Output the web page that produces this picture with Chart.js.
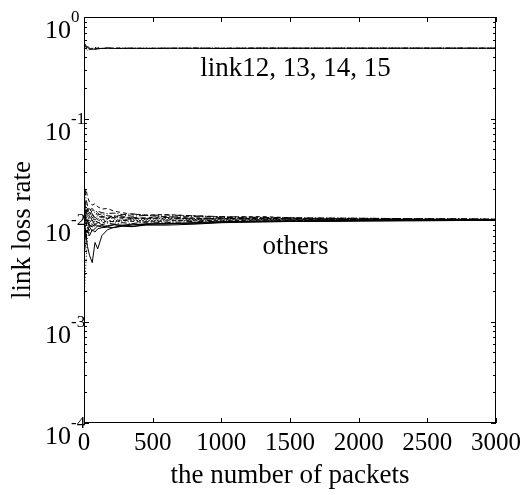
<!DOCTYPE html>
<html>
<head>
<meta charset="UTF-8">
<title>link loss rate</title>
<script src="https://cdn.jsdelivr.net/npm/chart.js"></script>
<style>
  html, body { margin: 0; padding: 0; background: #fff; }
  canvas { display: block; }
</style>
</head>
<body>
<canvas id="lossChart" width="529" height="495"></canvas>
<script>
// packet counts at which the loss rate estimates were taken
const packets = [5, 15, 25, 40, 60, 80, 100, 130, 170, 220, 280, 350, 450, 600, 800, 1000, 1300, 1600, 2000, 2400, 2800, 3000];

// bottleneck links 12..15
const link12 = [.53, .51, .50, .49, .48, .485, .49, .49, .495, .49, .49, .492, .49, .493, .492, .49, .492, .493, .492, .493, .492, .493];
const link13 = [.55, .52, .49, .48, .485, .49, .495, .49, .49, .495, .493, .49, .492, .49, .493, .492, .494, .492, .493, .492, .493, .492];
const link14 = [.50, .48, .47, .48, .49, .50, .495, .49, .49, .49, .495, .49, .493, .492, .49, .493, .492, .492, .494, .493, .492, .493];
const link15 = [.52, .50, .51, .50, .49, .48, .485, .49, .495, .492, .49, .494, .49, .492, .494, .492, .493, .492, .492, .493, .494, .492];

// the other links, all around 1%
const link1  = [.0180, .0200, .0170, .0150, .0140, .0145, .0135, .0128, .0130, .0122, .0118, .0114, .0112, .0113, .0110, .0107, .0108, .0104, .0103, .0102, .0101, .0101];
const link2  = [.0090, .0070, .0055, .0045, .0038, .0060, .0052, .0070, .0080, .0085, .0088, .0086, .0091, .0092, .0094, .0096, .0097, .0098, .0099, .0100, .0100, .0100];
const link3  = [.0022, .0040, .0065, .0080, .0095, .0090, .0100, .0098, .0095, .0097, .0102, .0100, .0098, .0101, .0103, .0100, .0102, .0101, .0100, .0101, .0100, .0100];
const link4  = [.0150, .0120, .0130, .0110, .0125, .0118, .0112, .0115, .0110, .0108, .0112, .0109, .0111, .0107, .0108, .0106, .0105, .0104, .0104, .0103, .0102, .0102];
const link5  = [.0120, .0090, .0100, .0085, .0078, .0082, .0088, .0085, .0088, .0090, .0087, .0089, .0092, .0091, .0094, .0096, .0097, .0097, .0098, .0099, .0099, .0099];
const link6  = [.0100, .0130, .0110, .0120, .0105, .0112, .0118, .0108, .0104, .0110, .0106, .0103, .0105, .0108, .0104, .0102, .0103, .0102, .0101, .0101, .0101, .0100];
const link7  = [.0070, .0110, .0090, .0100, .0115, .0095, .0098, .0102, .0096, .0099, .0095, .0098, .0100, .0097, .0099, .0101, .0099, .0100, .0099, .0100, .0099, .0100];
const link8  = [.0160, .0140, .0120, .0130, .0115, .0105, .0110, .0106, .0112, .0104, .0108, .0105, .0103, .0106, .0102, .0104, .0102, .0103, .0101, .0102, .0101, .0101];
const link9  = [.0060, .0080, .0075, .0090, .0085, .0092, .0087, .0088, .0086, .0090, .0089, .0091, .0090, .0093, .0092, .0095, .0096, .0097, .0098, .0099, .0099, .0099];
const link10 = [.0130, .0095, .0085, .0095, .0100, .0090, .0095, .0093, .0098, .0096, .0100, .0097, .0095, .0098, .0100, .0098, .0100, .0099, .0100, .0100, .0101, .0100];
const link11 = [.0110, .0100, .0115, .0105, .0095, .0100, .0104, .0100, .0106, .0102, .0099, .0103, .0101, .0104, .0101, .0103, .0101, .0102, .0101, .0101, .0100, .0101];
const link16 = [.0200, .0160, .0140, .0125, .0130, .0120, .0122, .0118, .0116, .0117, .0113, .0115, .0111, .0112, .0110, .0108, .0106, .0105, .0104, .0103, .0103, .0102];
const link17 = [.0085, .0075, .0080, .0070, .0080, .0076, .0082, .0084, .0085, .0084, .0087, .0086, .0089, .0089, .0091, .0094, .0096, .0097, .0098, .0098, .0099, .0099];
const link18 = [.0140, .0110, .0095, .0110, .0098, .0107, .0100, .0110, .0103, .0106, .0104, .0106, .0104, .0102, .0105, .0103, .0104, .0102, .0102, .0101, .0102, .0101];
const link19 = [.0095, .0125, .0105, .0090, .0108, .0100, .0093, .0099, .0101, .0095, .0098, .0101, .0097, .0100, .0098, .0099, .0098, .0100, .0099, .0100, .0100, .0100];
const link20 = [.0050, .0065, .0085, .0078, .0090, .0087, .0094, .0090, .0093, .0091, .0094, .0092, .0096, .0094, .0097, .0096, .0098, .0098, .0099, .0099, .0100, .0100];

const bottleneck = [link12, link13, link14, link15];
const others = [link2, link1, link3, link4, link5, link6, link7, link8, link9, link10,
                link11, link16, link17, link18, link19, link20];

const xTicks = [0, 500, 1000, 1500, 2000, 2500, 3000];
const yDecades = [0, -1, -2, -3, -4];

const serif = '"Liberation Serif", "Times New Roman", serif';
Chart.defaults.font.family = serif;
Chart.defaults.color = '#000';

// matlab-ish line styles: solid, dashed, dotted, dash-dot
const dashes = [[], [4, 3], [1, 2], [6, 2, 1, 2]];

const datasets = bottleneck.concat(others).map((s, n) => ({
  data: packets.map((p, i) => ({ x: p, y: s[i] })),
  borderColor: '#000',
  borderWidth: 1,
  borderDash: dashes[n % dashes.length],
  pointRadius: 0,
  tension: 0,
  fill: false
}));

// box, inward ticks, 10^n labels and text notes
const axisDecor = {
  id: 'axisDecor',
  afterDraw(chart) {
    const { ctx, chartArea: a, scales: { x, y } } = chart;
    ctx.save();
    ctx.strokeStyle = '#000';
    ctx.lineWidth = 1;
    ctx.setLineDash([]);
    ctx.strokeRect(a.left + 0.5, a.top + 0.5, a.right - a.left - 1, a.bottom - a.top - 1);

    ctx.beginPath();
    xTicks.forEach(v => {
      const px = Math.round(x.getPixelForValue(v)) + 0.5;
      ctx.moveTo(px, a.bottom); ctx.lineTo(px, a.bottom - 5);
      ctx.moveTo(px, a.top); ctx.lineTo(px, a.top + 5);
    });
    yDecades.forEach(e => {
      for (let k = 1; k <= 9; k++) {
        if (e === 0 && k > 1) break;
        const v = Number((k * Math.pow(10, e)).toPrecision(3));
        const py = Math.round(y.getPixelForValue(v)) + 0.5;
        const len = k === 1 ? 5 : 3;
        ctx.moveTo(a.left, py); ctx.lineTo(a.left + len, py);
        ctx.moveTo(a.right, py); ctx.lineTo(a.right - len, py);
      }
    });
    ctx.stroke();

    ctx.fillStyle = '#000';
    ctx.textBaseline = 'alphabetic';
    yDecades.forEach(e => {
      const py = y.getPixelForValue(Math.pow(10, e));
      ctx.font = '26px ' + serif;
      ctx.textAlign = 'right';
      ctx.fillText('10', 71, py + 21);
      ctx.font = '17px ' + serif;
      ctx.textAlign = 'left';
      ctx.fillText(e === 0 ? '0' : '-' + (-e), 71, py + 5);
    });

    // y title
    ctx.save();
    ctx.font = '27px ' + serif;
    ctx.textAlign = 'center';
    ctx.textBaseline = 'middle';
    ctx.translate(23, (a.top + a.bottom) / 2 + 10);
    ctx.rotate(-Math.PI / 2);
    ctx.fillText('link loss rate', 0, 0);
    ctx.restore();

    // notes next to the two groups of curves
    ctx.font = '27px ' + serif;
    ctx.textAlign = 'center';
    ctx.fillText('link12, 13, 14, 15', x.getPixelForValue(1540), y.getPixelForValue(0.265));
    ctx.fillText('others', x.getPixelForValue(1540), y.getPixelForValue(0.0046));
    ctx.restore();
  }
};

new Chart(document.getElementById('lossChart'), {
  type: 'line',
  data: { datasets },
  options: {
    responsive: false,
    animation: false,
    events: [],
    layout: { padding: { top: 17, right: 33, left: 0, bottom: 0 } },
    plugins: { legend: { display: false }, tooltip: { enabled: false } },
    scales: {
      x: {
        type: 'linear',
        min: 0,
        max: 3000,
        afterBuildTicks: s => { s.ticks = xTicks.map(v => ({ value: v })); },
        ticks: {
          font: { size: 25 },
          color: '#000',
          maxRotation: 0,
          padding: 5,
          autoSkip: false,
          callback: v => String(v)
        },
        grid: { display: false, drawTicks: false },
        border: { display: false },
        title: {
          display: true,
          text: 'the number of packets',
          font: { size: 27 },
          color: '#000',
          padding: { top: 0, bottom: 3 }
        },
        afterFit: s => { s.height = 72; }
      },
      y: {
        type: 'logarithmic',
        min: 1e-4,
        max: 1,
        ticks: { display: false },
        grid: { display: false, drawTicks: false },
        border: { display: false },
        afterFit: s => { s.width = 84; }
      }
    }
  },
  plugins: [axisDecor]
});
</script>
</body>
</html>
